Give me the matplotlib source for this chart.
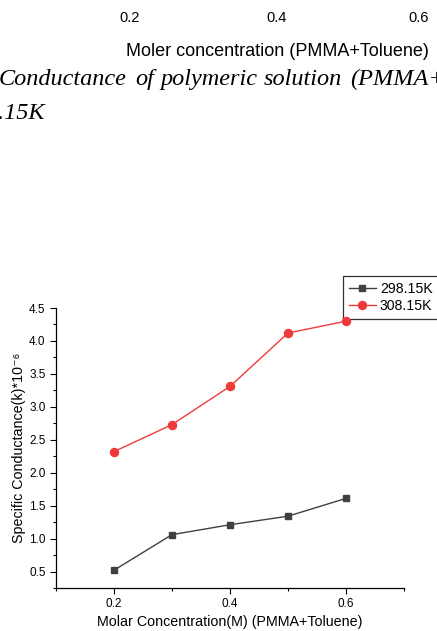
import matplotlib
matplotlib.use("Agg")
import matplotlib.pyplot as plt
from matplotlib.ticker import MultipleLocator

plt.rcParams['font.family'] = ['Liberation Sans', 'DejaVu Sans']

# data
conc = [0.2, 0.3, 0.4, 0.5, 0.6]
k_298 = [0.52, 1.06, 1.21, 1.34, 1.61]
k_308 = [2.32, 2.73, 3.31, 4.12, 4.30]

# leftovers of the previous figure / caption on the page
prev_ticks = ['0.2', '0.4', '0.6']
prev_tick_x = [130, 277, 419]
caption_words = ['Conductance', 'of', 'polymeric', 'solution', '(PMMA+']
caption_x = [127, 135, 160, 264, 350]   # right edge for the first word, left for the rest

W, H = 437, 631
fig = plt.figure(figsize=(W / 100, H / 100), dpi=100)

# page text above the chart
for lab, px in zip(prev_ticks, prev_tick_x):
    fig.text(px / W, 1 - 18 / H, lab, ha='center', va='center', fontsize=10.5)
fig.text(277 / W, 1 - 52 / H, 'Moler concentration (PMMA+Toluene)',
         ha='center', va='center', fontsize=13)

cap_kw = dict(va='baseline', fontsize=17.5, family='Liberation Serif', style='italic')
for i, (word, px) in enumerate(zip(caption_words, caption_x)):
    fig.text(px / W, 1 - 85 / H, word, ha='right' if i == 0 else 'left', **cap_kw)
fig.text(-2 / W, 1 - 119 / H, '.15K', ha='left', **cap_kw)

ax = fig.add_axes([56 / W, 1 - 588 / H, (404 - 56) / W, (588 - 308) / H])
ax.patch.set_visible(False)   # so the legend can sit underneath the data
ax.plot(conc, k_298, color='#404040', marker='s', markersize=4.4, linewidth=1,
        label='298.15K')
ax.plot(conc, k_308, color='#f03a3a', marker='o', markersize=5.8, linewidth=1,
        label='308.15K')

ax.set_xlim(0.1, 0.7)
ax.set_ylim(0.25, 4.5)
ax.set_xticks([0.2, 0.4, 0.6])
ax.set_yticks([0.5, 1.0, 1.5, 2.0, 2.5, 3.0, 3.5, 4.0, 4.5])
ax.xaxis.set_minor_locator(MultipleLocator(0.1))
ax.yaxis.set_minor_locator(MultipleLocator(0.25))
ax.tick_params(which='major', direction='out', length=4, width=0.8, labelsize=8.5)
ax.tick_params(which='minor', direction='out', length=2.5, width=0.8)

for s in ['top', 'right']:
    ax.spines[s].set_visible(False)
for s in ['left', 'bottom']:
    ax.spines[s].set_linewidth(0.9)

ax.set_xlabel('Molar Concentration(M) (PMMA+Toluene)', fontsize=10.3, labelpad=3)
ax.set_ylabel('Specific Conductance(k)*10\u207b\u2076', fontsize=10.3, labelpad=2)

leg = fig.legend(loc='upper left', bbox_to_anchor=(343 / W, 1 - 276 / H),
                 fontsize=10.2, frameon=True, fancybox=False, handlelength=1.9,
                 handletextpad=0.3, borderpad=0.4, labelspacing=0.24,
                 borderaxespad=0)
leg.get_frame().set_edgecolor('black')
leg.get_frame().set_linewidth(0.9)
leg.set_zorder(-1)

plt.savefig('out.png', dpi=100)
plt.close()
